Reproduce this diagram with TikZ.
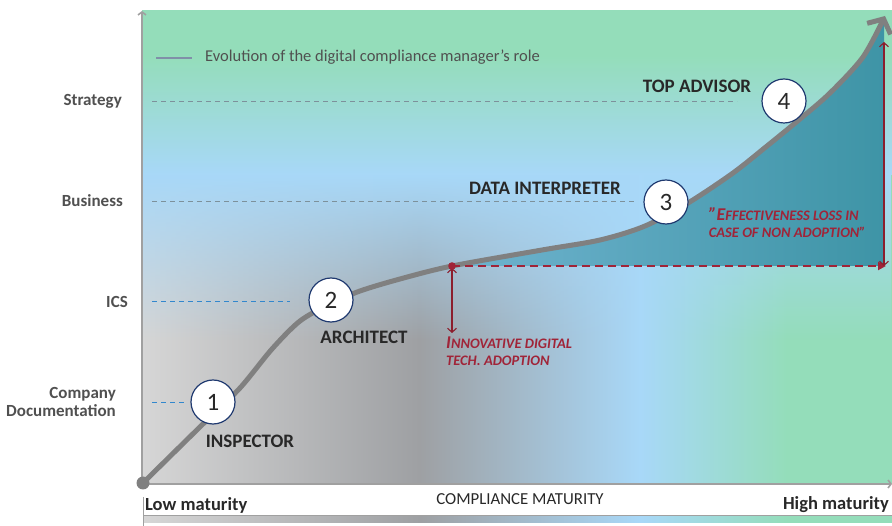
\documentclass[tikz,border=0pt]{standalone}
\usepackage{fontspec}
\setmainfont{Carlito}
\usetikzlibrary{arrows.meta,fadings}

\definecolor{mgreen}{RGB}{148,221,186}
\definecolor{mblue}{RGB}{168,216,248}
\definecolor{mgrayD}{RGB}{158,160,163}
\definecolor{mgrayL}{RGB}{214,214,214}
\definecolor{fillL}{RGB}{146,202,236}
\definecolor{fillR}{RGB}{62,148,166}
\definecolor{curvegray}{RGB}{128,128,128}
\definecolor{axisgray}{RGB}{160,160,160}
\definecolor{stageblue}{RGB}{32,58,112}
\definecolor{lvltext}{RGB}{80,80,80}
\definecolor{roletext}{RGB}{40,40,40}
\definecolor{dashgray}{RGB}{125,145,155}
\definecolor{dashblue}{RGB}{50,135,205}
\definecolor{notered}{RGB}{160,36,56}
\definecolor{arrowred}{RGB}{140,30,45}

% maturity colours, left to right
\pgfdeclarehorizontalshading{maturity}{100bp}{color(0bp)=(mgrayL); color(25bp)=(mgrayL);
  color(43.5bp)=(mgrayD); color(58.2bp)=(mblue); color(68bp)=(mgreen); color(75bp)=(mgreen); color(100bp)=(mgreen)}
% upper band, bottom to top
\pgfdeclareverticalshading{upper}{100bp}{color(0bp)=(mblue); color(25bp)=(mblue);
  color(61.5bp)=(mgreen); color(100bp)=(mgreen)}
\tikzfading[name=fade down, top color=transparent!0, bottom color=transparent!100]
\tikzfading[name=fade both, top color=transparent!100, middle color=transparent!0, bottom color=transparent!100]

% fake small caps
\newcommand\capbig[1]{{\fontsize{18}{17}\selectfont #1}}

% the role curve
\newcommand\rolepath{plot[smooth, tension=0.5] coordinates {(145,481) (205,422) (240,388) (272,349)
  (300,321) (330,304) (360,291) (400,279) (452,266) (542,250) (600,240) (645,226) (688,203)
  (733,173) (767,146) (800,119) (830,93) (863,57) (885,16)}}

\tikzset{
  level/.style={font=\bfseries\fontsize{17}{18.5}\selectfont, text=lvltext, anchor=east, inner sep=0pt},
  role/.style={font=\bfseries\fontsize{19}{21}\selectfont, text=roletext, inner sep=0pt},
  stage/.style={circle, draw=stageblue, line width=1.2pt, fill=white, minimum size=44pt,
    inner sep=0pt, text=roletext, font=\fontsize{25}{25}\selectfont},
  levelline/.style={dash pattern=on 5pt off 4pt, line width=0.9pt},
  note/.style={font=\bfseries\itshape\fontsize{14.5}{17}\selectfont, text=notered, align=left, inner sep=0pt},
  axis/.style={axisgray, line width=1.6pt},
  redmark/.style={arrowred, line width=1.1pt, {Straight Barb[length=4pt,width=9pt]}-{Straight Barb[length=4pt,width=9pt]}}
}

\begin{document}
\begin{tikzpicture}[x=1pt,y=-1pt]
\useasboundingbox (0,0) rectangle (892,526);

% Background of the chart
\shade[shading=maturity] (142,11) rectangle (892,484);
\fill[mgrayD, path fading=fade both] (142,180) rectangle (420,460);
\shade[shading=upper] (142,11) rectangle (892,175);
\fill[mblue, path fading=fade down] (142,175) rectangle (892,340);

% Loss area under the curve
\begin{scope}
\clip (452,5) rectangle (884,266);
\shade[left color=fillL, right color=fillR] \rolepath -- (884,484) -- (145,484) -- cycle;
\end{scope}

% Axes
\coordinate (O) at (142,484);
\coordinate (ytop) at (142,11);
\coordinate (xend) at (892,484);
\draw[axis, -{Straight Barb[length=3pt,width=8pt]}] (O) -- (ytop);
\draw[axis, -{Straight Barb[length=3pt,width=8pt]}] (O) -- (xend);

% Levels
\node[level] (strategy) at (122,101) {Strategy};
\node[level] (business) at (123,201) {Business};
\node[level] (ics) at (128,302) {ICS};
\node[level, align=right] (docs) at (116,402) {Company\\Documentation};
\coordinate (strategyend) at (737,101);
\coordinate (businessend) at (635,201);
\coordinate (icsend) at (290,301);
\coordinate (docsend) at (185,402);
\draw[levelline, dashgray] (152,101) -- (strategyend);
\draw[levelline, dashgray] (152,201) -- (businessend);
\draw[levelline, dashblue] (152,301) -- (icsend);
\draw[levelline, dashblue] (152,402) -- (docsend);

% Legend
\coordinate (legA) at (156,58);
\coordinate (legB) at (192,58);
\draw[line width=2pt, color={rgb,255:red,128;green,144;blue,168}] (legA) -- (legB);
\node[anchor=west, inner sep=0pt, text=lvltext, font=\fontsize{16.5}{18}\selectfont] (legend) at (205,57)
  {Evolution of the digital compliance manager’s role};

% Role curve
\draw[curvegray, line width=5pt, -{Straight Barb[length=11pt,width=26pt]}] \rolepath;
\fill[curvegray] (O) ++(1,-1) circle (6.5);

% Stages
\foreach \n/\x/\y in {1/213/402, 2/331/300, 3/666/202, 4/784/101}
  \node[stage] (s\n) at (\x,\y) {\n};

\node[role] (inspector) at (250,441) {INSPECTOR};
\node[role] (architect) at (364,337) {ARCHITECT};
\node[role] (interpreter) at (545,188) {DATA INTERPRETER};
\node[role] (advisor) at (697,86) {TOP ADVISOR};

% Adoption point and loss
\coordinate (adopt) at (452,266);
\coordinate (adoptlow) at (452,333);
\coordinate (lossend) at (886,266);
\coordinate (losstop) at (884,42);
\coordinate (lossbot) at (884,266);
\draw[notered, line width=2pt, dash pattern=on 8pt off 5pt, -{Triangle[length=8pt,width=8pt]}] (adopt) -- (lossend);
\draw[redmark] (adopt) ++(0,2) -- (adoptlow);
\draw[redmark] (losstop) -- (lossbot);
\fill[notered] (adopt) circle (3.8);
\node[note, anchor=north west] (adoption) at (446,337)
  {\capbig{I}NNOVATIVE DIGITAL\\TECH. ADOPTION};
\node[note, anchor=north east] (loss) at (866,207)
  {\capbig{"E}FFECTIVENESS LOSS IN\\CASE OF NON ADOPTION"};

% Maturity axis
\node[anchor=west, inner sep=0pt, text=roletext, font=\bfseries\fontsize{18.5}{20}\selectfont] (low) at (145,505) {Low maturity};
\node[anchor=east, inner sep=0pt, text=roletext, font=\bfseries\fontsize{18.5}{20}\selectfont] (high) at (889,505) {High maturity};
\node[inner sep=0pt, text=roletext, font=\fontsize{16.8}{18}\selectfont] (maturity) at (520,499) {COMPLIANCE MATURITY};
\draw[axisgray, line width=1pt] (143,515) -- (892,515);
\shade[shading=maturity] (143,516) rectangle (892,522);
\draw[axisgray, line width=1pt] (143,497) -- (143,526);
\end{tikzpicture}
\end{document}
